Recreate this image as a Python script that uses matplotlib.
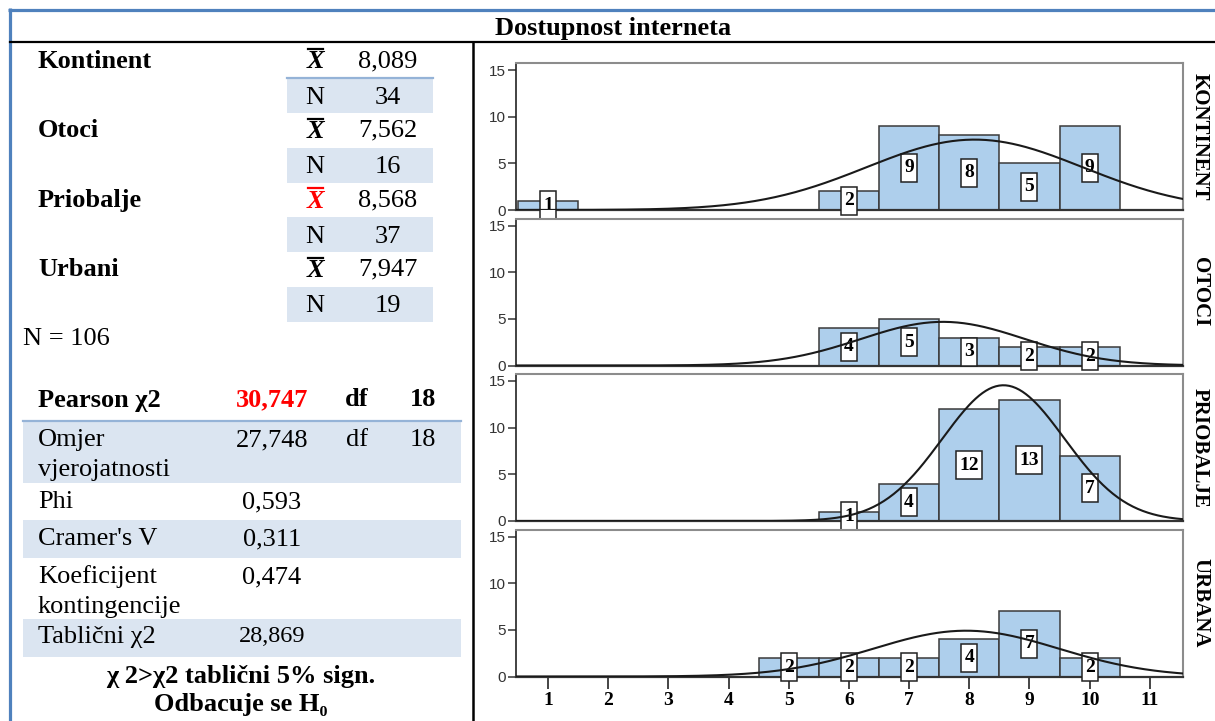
import numpy as np
import matplotlib
matplotlib.use('Agg')
import matplotlib.pyplot as plt
from matplotlib.patches import Rectangle
from matplotlib.transforms import ScaledTranslation

plt.rcParams['font.family'] = ['Liberation Serif', 'DejaVu Serif']

# Histogrami - dostupnost interneta po regijama
ocjene = np.arange(1, 11)
kontinent = [1, 0, 0, 0, 0, 2, 9, 8, 5, 9]
otoci = [0, 0, 0, 0, 0, 4, 5, 3, 2, 2]
priobalje = [0, 0, 0, 0, 0, 1, 4, 12, 13, 7]
urbana = [0, 0, 0, 0, 2, 2, 2, 4, 7, 2]
paneli = ['KONTINENT', 'OTOCI', 'PRIOBALJE', 'URBANA']
x_ticks = list(range(1, 12))

# Tablica
regije = ['Kontinent', 'Otoci', 'Priobalje', 'Urbani']
prosjeci = [8.089, 7.562, 8.568, 7.947]
n_regije = [34, 16, 37, 19]
n_ukupno = 106

pearson_chi2 = 30.747
df = 18
mjere = ['Omjer\nvjerojatnosti', 'Phi', "Cramer's V", 'Koeficijent\nkontingencije', 'Tablični χ2']
mjere_vrijednosti = [27.748, 0.593, 0.311, 0.474, 28.869]
mjere_df = [18, None, None, None, None]

# BOJE
PLAVA = '#4f81bd'
SVIJETLO_PLAVA = '#95b3d7'
SJENA = '#dbe5f1'
STUPAC = '#aecfec'

W, H = 1215, 721
FS = 19
DY = 2  # pomak teksta prema dolje


def fmt(v):
    return f'{v:.3f}'.replace('.', ',')


def tekst(x, y, s, **kw):
    kw.setdefault('va', 'center')
    kw.setdefault('fontsize', FS)
    bg.text(x, y + DY, s, **kw)


fig = plt.figure(figsize=(W / 100, H / 100), dpi=100)
bg = fig.add_axes([0, 0, 1, 1])
bg.set_xlim(0, W)
bg.set_ylim(H, 0)
bg.axis('off')

# okvir
bg.plot([9.5, 9.5], [8, H], color=PLAVA, lw=2.3, solid_capstyle='butt')
bg.plot([8, W], [9.5, 9.5], color=PLAVA, lw=2.3, solid_capstyle='butt')
bg.plot([10, W], [42, 42], color='k', lw=1.6)
bg.plot([473, 473], [42, H], color='k', lw=1.8)
tekst(613, 26, 'Dostupnost interneta', ha='center', fontweight='bold')

# gornja tablica
for i, (reg, m, n) in enumerate(zip(regije, prosjeci, n_regije)):
    yx = 59 + 69.6 * i
    yn = yx + 36.5
    bg.add_patch(Rectangle((287, yn - 17.5), 146, 35, facecolor=SJENA, edgecolor='none'))
    if i == 0:
        bg.plot([287, 433], [yx + 19, yx + 19], color=SVIJETLO_PLAVA, lw=1.6)
    boja = 'red' if reg == 'Priobalje' else 'k'
    tekst(38, yx, reg, ha='left', fontweight='bold')
    tekst(315, yx + 1, 'X', ha='center', fontweight='bold', fontstyle='italic', color=boja)
    bg.plot([308, 323], [yx - 10, yx - 10], color=boja, lw=1.6)
    tekst(388, yx, fmt(m), ha='center')
    tekst(315, yn, 'N', ha='center')
    tekst(388, yn, str(n), ha='center')

tekst(23, 337, f'N = {n_ukupno}', ha='left')

# donja tablica
tekst(38, 398, 'Pearson χ2', ha='left', fontweight='bold')
tekst(272, 398, fmt(pearson_chi2), ha='center', fontweight='bold', color='red')
tekst(357, 398, 'df', ha='center', fontweight='bold')
tekst(423, 398, str(df), ha='center', fontweight='bold')
bg.plot([23, 461], [421, 421], color=SVIJETLO_PLAVA, lw=1.6)

redovi = [(421, 483, 438), (483, 520, 500), (520, 558, 537), (558, 619, 575), (619, 657, 635)]
for k, (naziv, v, d) in enumerate(zip(mjere, mjere_vrijednosti, mjere_df)):
    y0, y1, yt = redovi[k]
    if k % 2 == 0:
        bg.add_patch(Rectangle((23, y0), 438, y1 - y0, facecolor=SJENA, edgecolor='none', zorder=0))
    for j, linija in enumerate(naziv.split('\n')):
        tekst(38, yt + 30 * j, linija, ha='left')
    fs = FS - 1.5 if naziv.startswith('Tabli') else FS
    tekst(272, yt, fmt(v), ha='center', fontsize=fs)
    if d is not None:
        tekst(357, yt, 'df', ha='center')
        tekst(423, yt, str(d), ha='center')

tekst(241, 674, 'χ 2>χ2 tablični 5% sign.', ha='center', fontweight='bold')
tekst(241, 703, 'Odbacuje se H₀', ha='center', fontweight='bold')

# histogrami
ax_l, ax_r = 516, 1183
serije = [kontinent, otoci, priobalje, urbana]
for i, (naziv, counts) in enumerate(zip(paneli, serije)):
    top = 63 + 155.5 * i
    bottom = 210 + 155.5 * i
    ax = fig.add_axes([ax_l / W, 1 - bottom / H, (ax_r - ax_l) / W, (bottom - top) / H])
    counts = np.array(counts)
    ax.bar(ocjene, counts, width=1, color=STUPAC, edgecolor='#3a3a3a', lw=1.1, zorder=2)

    # normalna krivulja (prosjek i SD iz frekvencija)
    vals = np.repeat(ocjene, counts)
    mu, sd = vals.mean(), vals.std(ddof=1)
    xs = np.linspace(0.47, 11.55, 400)
    ys = counts.sum() * np.exp(-0.5 * ((xs - mu) / sd) ** 2) / (sd * np.sqrt(2 * np.pi))
    ax.plot(xs, ys, color='#1a1a1a', lw=1.5, zorder=6)

    for x, c in zip(ocjene, counts):
        if c == 0:
            continue
        w = 0.16 if c < 10 else 0.26
        h = 0.28
        tr = fig.dpi_scale_trans + ScaledTranslation(x, c / 2, ax.transData)
        ax.add_patch(Rectangle((-w / 2, -h / 2), w, h, transform=tr, facecolor='white',
                               edgecolor='#222222', lw=1.1, clip_on=False, zorder=4))
        ax.text(x, c / 2, str(c), ha='center', va='center', fontsize=14, fontweight='bold',
                zorder=5, clip_on=False)

    ax.set_xlim(0.47, 11.55)
    ax.set_ylim(0, 15.75)
    ax.set_yticks([0, 5, 10, 15])
    ax.tick_params(axis='y', direction='out', length=6, width=1.2, color='#444444',
                   labelsize=11, labelcolor='#333333', pad=1, labelfontfamily='Liberation Sans')
    for s in ['top', 'right']:
        ax.spines[s].set_color('#8c8c8c')
        ax.spines[s].set_linewidth(1.5)
    ax.spines['left'].set_color('#222222')
    ax.spines['left'].set_linewidth(1.2)
    ax.spines['bottom'].set_color('#333333')
    ax.spines['bottom'].set_linewidth(1.6)
    if i < 3:
        ax.set_xticks([])
    else:
        ax.set_xticks(x_ticks)
        ax.tick_params(axis='x', direction='out', length=8.5, width=1.4, color='#444444',
                       labelsize=14, pad=3)
        for lbl in ax.get_xticklabels():
            lbl.set_fontweight('bold')

    bg.text(1200, (top + bottom) / 2, naziv, rotation=-90, ha='center', va='center',
            fontsize=15, fontweight='bold')

fig.savefig('out.png', dpi=100)
